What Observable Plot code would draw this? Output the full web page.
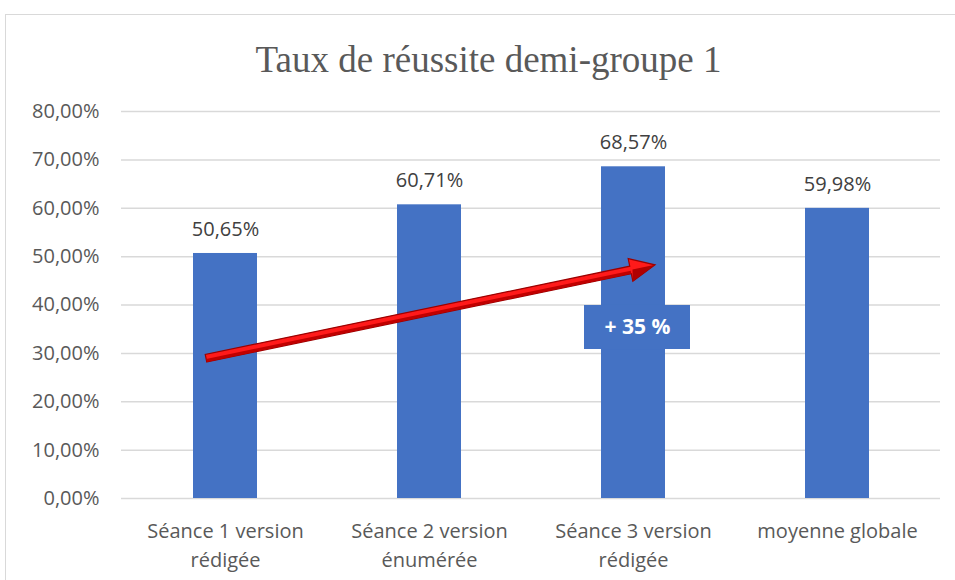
<!DOCTYPE html>
<html><head><meta charset="utf-8">
<script src="https://cdn.jsdelivr.net/npm/d3@7"></script>
<script src="https://cdn.jsdelivr.net/npm/@observablehq/plot@0.6"></script>
<style>
html,body{margin:0;padding:0;background:#fff;}
#wrap{position:relative;width:955px;height:580px;overflow:hidden;font-family:"Open Sans",sans-serif;}
#frame{position:absolute;left:5px;top:14px;width:1000px;height:700px;border-left:1.5px solid #d9d9d9;border-top:1.5px solid #d9d9d9;z-index:0;}
#title{position:absolute;left:0;width:977px;top:41px;line-height:37px;text-align:center;font-family:"Liberation Serif","Times New Roman",serif;font-size:37px;color:#595959;z-index:2;white-space:nowrap;}
#chart{position:absolute;left:0;top:0;z-index:1;}
</style></head>
<body>
<div id="wrap"><div id="frame"></div><div id="title">Taux de réussite demi-groupe 1</div><div id="chart"></div></div>
<script>
// ---- data ----
const categories = ["Séance 1 version rédigée", "Séance 2 version énumérée", "Séance 3 version rédigée", "moyenne globale"];
const tickLabels = ["Séance 1 version\nrédigée", "Séance 2 version\nénumérée", "Séance 3 version\nrédigée", "moyenne globale"];
const values = [0.5065, 0.6071, 0.6857, 0.5998];
const valueLabels = ["50,65%", "60,71%", "68,57%", "59,98%"];
const yTicks = [0, 0.1, 0.2, 0.3, 0.4, 0.5, 0.6, 0.7, 0.8];
// annotation: arrow from Séance 1 to Séance 3, and "+ 35 %" box
const arrowFrom = {cat: "Séance 1 version rédigée", value: 0.289};
const arrowTo = {cat: "Séance 3 version rédigée", value: 0.482};
const boxCat = "Séance 3 version rédigée";
const boxLow = 0.308, boxHigh = 0.399;
const boxText = "+ 35 %";

const rows = categories.map((c, i) => ({cat: c, value: values[i], label: valueLabels[i]}));
const boxRow = [{cat: boxCat, y1: boxLow, y2: boxHigh, mid: (boxLow + boxHigh) / 2, text: boxText}];
const arrowRow = [{c1: arrowFrom.cat, v1: arrowFrom.value, c2: arrowTo.cat, v2: arrowTo.value}];

const BLUE = "#4472C4";
const fmtPct = d => (d * 100).toFixed(2).replace(".", ",") + "%";

function drawArrow(index, scales, vals, dims, context) {
  const bw = scales.x.bandwidth ? scales.x.bandwidth() : 0;
  const g = d3.create("svg:g");
  for (const i of index) {
    const d = arrowRow[i];
    const tx = scales.x(d.c1) + bw / 2 - 19, ty = scales.y(d.v1);
    const hx = scales.x(d.c2) + bw / 2 + 22, hy = scales.y(d.v2);
    const L = Math.hypot(hx - tx, hy - ty);
    const ux = (hx - tx) / L, uy = (hy - ty) / L;
    const nx = -uy, ny = ux; // normal (points downward side)
    const w = 3.8, hw = 11.5, hl = 25;
    const bx = hx - ux * hl, by = hy - uy * hl;
    const P = (x, y) => `${x.toFixed(2)},${y.toFixed(2)}`;
    const pts = [
      P(tx + nx * w, ty + ny * w), P(bx + nx * w, by + ny * w), P(bx + nx * hw, by + ny * hw),
      P(hx, hy), P(bx - nx * hw, by - ny * hw), P(bx - nx * w, by - ny * w), P(tx - nx * w, ty - ny * w)
    ].join(" ");
    g.append("polygon").attr("points", pts).attr("fill", "#ff1a1a").attr("stroke", "#9b0000").attr("stroke-width", 1.2).attr("stroke-linejoin", "miter");
    // darker lower side for the 3D look
    const low = [
      P(tx + nx * w * 0.2, ty + ny * w * 0.2), P(bx + nx * w * 0.2, by + ny * w * 0.2),
      P(bx + nx * w, by + ny * w), P(tx + nx * w, ty + ny * w)
    ].join(" ");
    g.append("polygon").attr("points", low).attr("fill", "#c00000");
    const lowHead = [P(bx + ux * 2, by + uy * 2), P(bx + nx * hw, by + ny * hw), P(hx, hy)].join(" ");
    g.append("polygon").attr("points", lowHead).attr("fill", "#b00000");
  }
  return g.node();
}

const chart = Plot.plot({
  width: 955,
  height: 580,
  marginTop: 111,
  marginBottom: 82,
  marginLeft: 121,
  marginRight: 15,
  style: {background: "transparent", fontFamily: "'Open Sans', sans-serif", fontSize: "20px", color: "#595959", overflow: "visible"},
  x: {domain: categories, paddingInner: 0.688, paddingOuter: 0.344, label: null},
  y: {domain: [0, 0.8], label: null},
  marks: [
    Plot.ruleY(yTicks, {stroke: "#d9d9d9", strokeWidth: 1.5}),
    Plot.barY(rows, {x: "cat", y: "value", fill: BLUE}),
    Plot.text(rows, {x: "cat", y: "value", text: "label", dy: -24, fill: "#404040", fontSize: 20}),
    Plot.axisY({ticks: yTicks, tickFormat: fmtPct, tickSize: 0, tickPadding: 22, fontSize: 20, label: null}),
    Plot.axisX({tickSize: 0, tickPadding: 19, fontSize: 20, lineHeight: 1.45, label: null,
      tickFormat: d => tickLabels[categories.indexOf(d)]}),
    Plot.arrow(arrowRow, {x1: "c1", y1: "v1", x2: "c2", y2: "v2", render: drawArrow}),
    Plot.barY(boxRow, {x: "cat", y1: "y1", y2: "y2", fill: BLUE, insetLeft: -17, insetRight: -25}),
    Plot.text(boxRow, {x: "cat", y: "mid", text: "text", fill: "white", fontWeight: "bold", fontSize: 21, dx: 4})
  ]
});
document.getElementById("chart").appendChild(chart);
</script>
</body></html>
